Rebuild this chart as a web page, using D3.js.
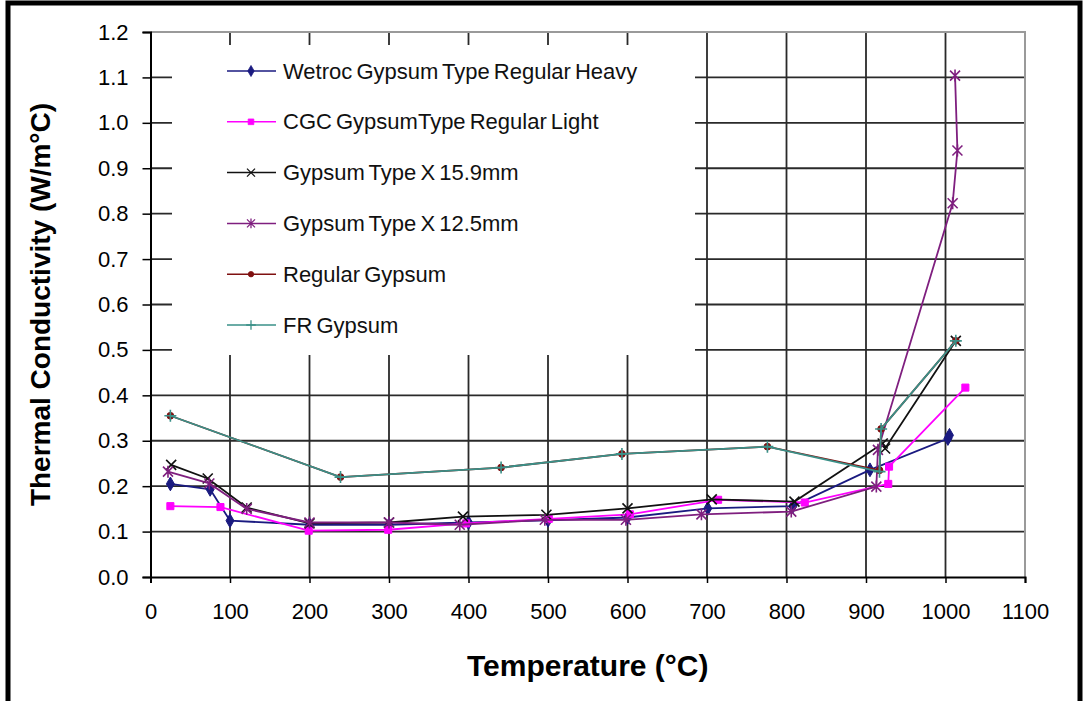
<!DOCTYPE html>
<html>
<head>
<meta charset="utf-8">
<script src="https://cdn.jsdelivr.net/npm/d3@7"></script>
<style>
  html, body { margin: 0; padding: 0; background: #fff; }
  svg { display: block; font-family: "Liberation Sans", Arial, sans-serif; }
</style>
</head>
<body>
<svg id="chart" width="1087" height="701"></svg>
<script>
// ---- Data ----
const seriesNames = [
  "Wetroc Gypsum Type Regular Heavy",
  "CGC GypsumType Regular Light",
  "Gypsum Type X 15.9mm",
  "Gypsum Type X 12.5mm",
  "Regular Gypsum",
  "FR Gypsum"
];
const wetrocT = [25, 75, 100, 200, 300, 400, 500, 600, 701, 808, 905, 1003, 1005];
const wetrocK = [0.205, 0.193, 0.124, 0.115, 0.115, 0.120, 0.125, 0.131, 0.151, 0.156, 0.236, 0.305, 0.312];
const cgcT = [25, 88, 199, 299, 397, 501, 603, 714, 823, 928, 929, 1025];
const cgcK = [0.156, 0.154, 0.102, 0.104, 0.118, 0.128, 0.138, 0.170, 0.164, 0.205, 0.243, 0.417];
const x159T = [26, 72, 121, 200, 300, 393, 498, 600, 706, 810, 921, 924, 1013];
const x159K = [0.247, 0.217, 0.153, 0.118, 0.120, 0.133, 0.137, 0.151, 0.171, 0.166, 0.294, 0.283, 0.520];
const x125T = [22, 74, 121, 200, 300, 389, 496, 598, 693, 806, 913, 915, 1009, 1015, 1012];
const x125K = [0.232, 0.206, 0.150, 0.120, 0.120, 0.115, 0.126, 0.126, 0.138, 0.144, 0.199, 0.280, 0.823, 0.939, 1.104];
const regularT = [25, 239, 441, 593, 776, 917, 919, 1013];
const regularK = [0.355, 0.220, 0.241, 0.271, 0.287, 0.235, 0.326, 0.520];
const frT = [25, 239, 441, 593, 776, 917, 919, 1013];
const frK = [0.355, 0.220, 0.241, 0.271, 0.287, 0.232, 0.326, 0.520];

const xTickValues = [0, 100, 200, 300, 400, 500, 600, 700, 800, 900, 1000, 1100];
const yTickValues = [0.0, 0.1, 0.2, 0.3, 0.4, 0.5, 0.6, 0.7, 0.8, 0.9, 1.0, 1.1, 1.2];
const xTitle = "Temperature (°C)";
const yTitle = "Thermal Conductivity (W/m°C)";

// ---- Styling ----
const seriesColors = ["#1a1a80", "#ff00ff", "#111111", "#7f1f7f", "#7f1010", "#3a9088"];
const seriesMarkers = ["diamond", "square", "x", "star", "circle", "plus"];
const seriesData = [
  [wetrocT, wetrocK], [cgcT, cgcK], [x159T, x159K],
  [x125T, x125K], [regularT, regularK], [frT, frK]
].map(([t, k], i) => ({ name: seriesNames[i], color: seriesColors[i], marker: seriesMarkers[i],
  points: t.map((tv, j) => ({ t: tv, k: k[j] })) }));

const svg = d3.select("#chart");
const pLeft = 150.5, pRight = 1025, pTop = 32, pBottom = 577;
const x = d3.scaleLinear().domain([0, 1100]).range([pLeft, pRight]);
const y = d3.scaleLinear().domain([0, 1.2]).range([pBottom, pTop]);

// outer frame
svg.append("rect").attr("x", 8).attr("y", 3).attr("width", 1072).attr("height", 760)
  .attr("fill", "none").attr("stroke", "#000").attr("stroke-width", 5);

// gridlines
const grid = svg.append("g");
grid.selectAll("line.h").data(yTickValues.slice(1, -1)).join("line")
  .attr("x1", pLeft).attr("x2", pRight).attr("y1", d => y(d)).attr("y2", d => y(d))
  .attr("stroke", "#2a2a2a").attr("stroke-width", 1.8);
grid.selectAll("line.v").data(xTickValues.slice(1, -1)).join("line")
  .attr("x1", d => x(d)).attr("x2", d => x(d)).attr("y1", pTop).attr("y2", pBottom)
  .attr("stroke", "#2a2a2a").attr("stroke-width", 1.8);
// plot border (top/right grey)
svg.append("path").attr("d", `M${pLeft},${pTop}H${pRight}V${pBottom}`)
  .attr("fill", "none").attr("stroke", "#9a9a9a").attr("stroke-width", 2);

// legend background (inside plot area)
svg.append("rect").attr("x", 172).attr("y", 45).attr("width", 523).attr("height", 310).attr("fill", "#fff");

// axes
const xAxis = d3.axisBottom(x).tickValues(xTickValues).tickSize(6).tickFormat(d3.format("d"));
const gx = svg.append("g").attr("transform", `translate(0,${pBottom})`).call(xAxis);
gx.select(".domain").attr("stroke", "#000").attr("stroke-width", 2);
gx.selectAll(".tick line").attr("stroke", "#000").attr("stroke-width", 1.5);
gx.selectAll(".tick text").attr("font-size", 22).attr("fill", "#000").attr("dy", "0").attr("y", 42)
  .attr("font-family", "Liberation Sans, Arial, sans-serif");

const yAxis = d3.axisLeft(y).tickValues(yTickValues).tickSize(8).tickFormat(d3.format(".1f"));
const gy = svg.append("g").attr("transform", `translate(${pLeft},0)`).call(yAxis);
gy.select(".domain").attr("stroke", "#000").attr("stroke-width", 2);
gy.selectAll(".tick line").attr("stroke", "#000").attr("stroke-width", 1.5);
gy.selectAll(".tick text").attr("font-size", 22).attr("fill", "#000").attr("x", -22)
  .attr("font-family", "Liberation Sans, Arial, sans-serif");

// titles
svg.append("text").attr("x", (pLeft + pRight) / 2).attr("y", 676).attr("text-anchor", "middle")
  .attr("font-size", 30).attr("font-weight", "bold").text(xTitle);
svg.append("text").attr("transform", `translate(50,${(pTop + pBottom) / 2}) rotate(-90)`)
  .attr("text-anchor", "middle").attr("font-size", 28).attr("font-weight", "bold").text(yTitle);

// marker shapes
function markerPath(type) {
  switch (type) {
    case "diamond": return d3.symbol(d3.symbolDiamond, 55)();
    case "square": return d3.symbol(d3.symbolSquare, 50)();
    case "circle": return d3.symbol(d3.symbolCircle, 36)();
    case "x": return "M-5,-5L5,5M-5,5L5,-5";
    case "star": return "M-5,-5L5,5M-5,5L5,-5M0,-6L0,6";
    case "plus": return "M-6,0L6,0M0,-6L0,6";
  }
}
function drawMarker(g, type, color, scale) {
  const filled = ["diamond", "square", "circle"].includes(type);
  g.append("path").attr("d", markerPath(type))
    .attr("transform", `scale(${scale || 1})`)
    .attr("fill", filled ? color : "none").attr("stroke", color)
    .attr("stroke-width", filled ? 1 : 1.6);
}

// series
const line = d3.line().x(d => x(d.t)).y(d => y(d.k));
seriesData.forEach(s => {
  const g = svg.append("g");
  g.append("path").datum(s.points).attr("d", line)
    .attr("fill", "none").attr("stroke", s.color).attr("stroke-width", 1.8);
  g.selectAll("g.m").data(s.points).join("g")
    .attr("transform", d => `translate(${x(d.t)},${y(d.k)})`)
    .each(function () { drawMarker(d3.select(this), s.marker, s.color); });
});

// legend
const legendY0 = 71, legendStep = 50.8;
seriesData.forEach((s, i) => {
  const cy = legendY0 + i * legendStep;
  const g = svg.append("g").attr("transform", `translate(0,${cy})`);
  g.append("line").attr("x1", 227).attr("x2", 276).attr("y1", 0).attr("y2", 0)
    .attr("stroke", s.color).attr("stroke-width", 1.5);
  const m = g.append("g").attr("transform", "translate(251,0)");
  drawMarker(m, s.marker, s.color, 0.8);
  g.append("text").attr("x", 283).attr("y", 7.5).attr("font-size", 22).attr("fill", "#111")
    .attr("word-spacing", -2).text(s.name);
});
</script>
</body>
</html>
